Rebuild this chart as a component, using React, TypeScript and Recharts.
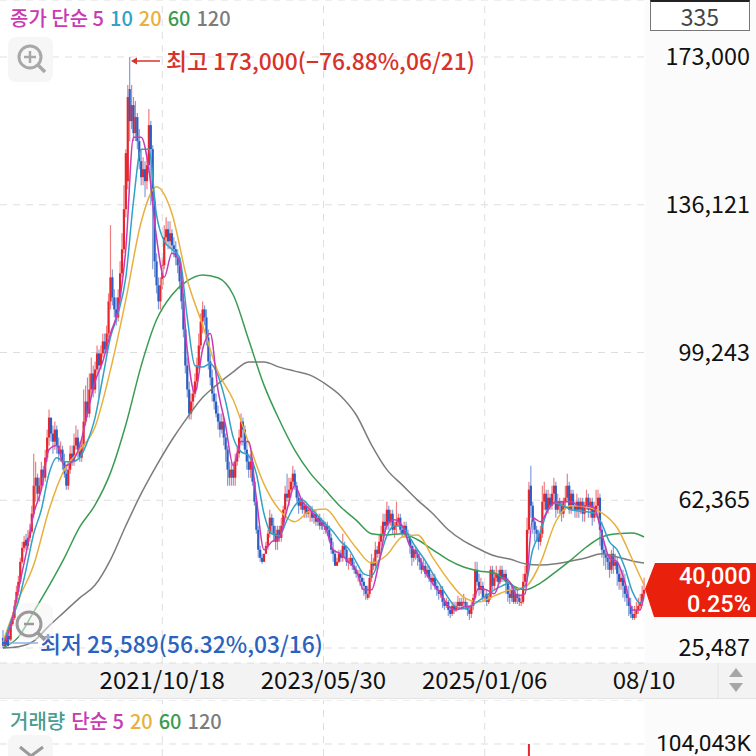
import React from "react";
import { Bar, CartesianGrid, ComposedChart, Line, ReferenceLine, XAxis, YAxis } from "recharts";

// prices in thousand won, one row = 10 candles
const opens = [
  28,26,27,28.5,27.6,31.5,33,36,39.5,42,
  47,50.5,52.5,51,53,54.5,59,66,68,64,
  66,70,68,73,78,83,79,77,80,76,
  74,75,72,69,66,70,74,72,76,78,
  75,73,76,82,87,84,90,94,90,95,
  99,96,99,102,100,104,112,118,113,110,
  108,113,119,125,135,142,165,157,161,154,
  158,152,147,143,145,142,146,156,150,137,
  122,116,112,116,121,128,130,127,129,126,
  125,123,121,117,112,105,96,90,84,87,
  89,92,96,101,107,110,108,103,97,93,
  89,87,84,82,80,82,78,75,70,68,
  70,68,72,74,78,82,80,75,72,70,
  72,67,62,55,50,48,47,49,51,54,
  58,56,54,52,55,53,56,60,64,63,
  65,67,69,66,63,61,62,60,61,59,
  60,60,58,59,57,58,56,57,55,56,
  55,53,50,49,46,47,49,48,51,50,
  47,47,48,46,45,44,44,43,42,41,
  38,39,43,47,46,50,49,52,54,57,
  56,60,57,59,55,56,57,58,55,54,
  56,54,53,51,48,50,49,48,47,45,
  46,44,45,43,42,43,41,40,39,40,
  37,36,37,35,34,36,35,36,37,36,
  37,37,36,35,34,36,38,45,42,40,
  41,38,39,37,38,45,41,43,44,42,
  45,43,44,42,39,38,40,37,39,38,
  37,37,42,44,55,66,61,57,55,54,
  52,54,62,64,60,63,61,64,66,60,
  62,61,59,62,63,66,60,64,61,60,
  62,60,62,59,61,63,60,62,58,60,
  61,63,55,50,49,48,47,45,49,46,
  47,44,42,43,41,39,38,36,34,33,34,35,36,37,39,
];
const closes = [
  26,27,28.5,27.6,31.5,33,36,39.5,42,47,
  50.5,52,51,53,54.5,59,66,68,64,66,
  70,68,73,78,83,79,77,80,76,74,
  75,72,69,66,70,74,72,76,78,75,
  73,76,82,87,84,90,94,90,95,99,
  96,99,102,100,104,112,118,113,110,108,
  113,119,125,135,149,163,157,161,154,158,
  152,147,143,145,142,146,156,150,137,122,
  116,112,116,121,128,130,127,129,126,125,
  123,121,117,112,105,96,90,84,87,89,
  92,96,101,107,110,108,103,97,93,89,
  87,84,82,80,82,78,75,70,68,70,
  68,72,74,78,82,80,75,72,70,72,
  67,62,55,50,48,47,49,51,54,58,
  56,54,52,55,53,56,60,64,63,65,
  67,69,66,63,61,62,60,61,59,60,
  60,58,59,57,58,56,57,55,56,55,
  53,50,49,46,47,49,48,51,50,47,
  47,48,46,45,44,44,43,42,41,39,
  39,43,47,46,50,49,52,54,57,56,
  60,57,59,55,56,57,58,55,54,56,
  54,53,51,48,50,49,48,47,45,46,
  44,45,43,42,43,41,40,39,40,37,
  36,37,35,34,36,35,36,37,36,37,
  37,36,35,34,36,38,45,42,40,41,
  38,39,37,38,45,41,43,44,42,45,
  43,44,42,39,38,40,37,39,38,37,
  37,42,44,55,65,61,57,55,54,52,
  54,62,64,60,63,61,64,66,60,62,
  61,59,62,63,66,60,64,61,60,62,
  60,62,59,61,63,60,62,58,60,61,
  63,55,50,49,48,47,45,49,46,47,
  44,42,43,41,39,38,36,34,33,34,35,36,37,39,40,
];
const highs = [
  30,28.5,29.5,30,32.5,34.5,37.5,41,43.5,48,
  52,53.5,54,55,56.5,61,74,72,69,68,
  72,71,75,80,85,82,81,82,81,78,
  77,76,74,71,72,76,76,79,81,80,
  77,78,90,91,93,94,98,96,97,101,
  100,101,104,104,106,114,131,120,115,113,
  115,122,129,141,150,166,173,166,163,162,
  159,155,150,148,147,149,160,157,151,138,
  124,118,118,123,131,133,132,132,130,128,
  127,125,123,119,114,106,98,92,89,91,
  94,98,104,109,112,111,110,105,99,95,
  91,89,86,84,84,83,79,76,72,72,
  72,74,76,80,84,83,81,77,74,74,
  73,68,63,56,51,49,49,52,55,60,
  59,58,56,56,56,58,61,66,69,68,
  68,71,70,67,64,63,63,62,62,61,
  61,61,60,60,59,59,58,58,57,57,
  56,54,52,50,48,50,50,54,52,51,
  48,49,48,47,46,45,45,44,43,41,
  41,45,49,48,52,51,54,56,59,59,
  62,61,60,60,57,62,59,59,56,57,
  57,55,54,52,51,51,50,49,48,48,
  47,46,46,44,44,44,42,41,41,41,
  38,38,37.5,36,37,37,37,38.5,38,38,
  39,38,37,36,37,39,47,47,44,43,
  42,40,40,39,46,46,45,46,45,46,
  46,45,45,43,41,41,41,40,40,39,
  39,44,46,58,67,71,62,58,56,55,
  56,66,67,65,65,64,66,68,67,64,
  63,62,63,66,69,67,65,65,62,64,
  63,63,63,62,65,64,63,63,62,65,
  65,64,57,52,51,49,49,50,51,49,
  48,46,45,45,44,41,41,38,36,36,37,38,39,41,43,
];
const lows = [
  25.6,25.8,26.5,27,27.2,31,32.5,35.5,38.5,41.5,
  46.5,49.5,50,50,52,54,58,62,62,62,
  65,66,67,72,76,77,74,75,74,72,
  72,70,68,65,65,69,71,71,75,73,
  72,72,75,81,83,83,89,88,89,94,
  88,95,98,99,99,103,110,111,108,106,
  107,112,118,124,133,140,152,155,152,152,
  150,145,141,141,138,140,144,136,120,118,
  114,110,110,115,120,126,125,125,124,123,
  121,119,115,110,103,94,88,82.5,82.5,85,
  88,90,95,100,104,106,101,95,91,87,
  85,83,80,78,79,76,72,66,66,66,
  66,66,71,73,76,76,74,70,68,68,
  66,61,54,48,47,46.5,47,49,50,53,
  54,52,50,50,52,52,55,59,62,61,
  63,65,65,62,59,60,59,58,58,58,
  57,57,56.5,56,56,55,55,54,54,53.5,
  52,49,47,46.7,46.7,46.7,47,47,48,46,
  45,46,45,44,43,42,41,40,38.5,37.5,
  37.5,38,42,45,45,48,48,51,53,54,
  55,55,56,54,53,54,56,54,53,53,
  53,52,49,46,47,47.5,46,45,44,44.5,
  43,43,42,40,41,40,38.5,37.5,38,35.5,
  35,35.5,33.5,33,33.5,34,34.5,35,35,35,
  35.5,35,33.5,32.5,33,35,37.5,41,38.5,39,
  37,37,36,36.5,37.5,40,40,42,41,41.5,
  42,42,39,37,36.5,37,36.5,36.5,36.5,36,
  36,36.5,41,43,54,58,54,52,52,50,
  51,53,60,59,59,60,60,62,58,59,
  59,57,58,60,62,59,59,60,58,58,
  58,59,57,57,60,58,58,56,57,58,
  58,51,48,46,45,45,43,44,44,45,
  41,40,40,38,37,36,33.5,33,32.5,32.5,33,34,35,36,38,
];

// moving averages, one value every 4 candles (5, 10) or every 8 candles (20, 60, 120)
const ma5 = [
  26,31,40,49,59,65,75,76,71,72,76,84,92,97,104,110,125,153,153,145,128,
  118,124,122,100,89,100,104,90,81,71,77,77,63,50,52,53,60,66,62,60,57.5,
  55.5,50,49,47,45,40,40,47,56,57.5,56,51,49,44.5,41.5,39,36,35,35.7,36,
  40.5,40,39,43,42,38.5,39,58,57,60,62,62,62,61,61,60.5,54,48,47,42,35,35,39,
];
const ma10 = [
  26,32,37,45,54,60,69,73,72,72,73,77,83,93,103,109,118,137,150,150,133.6,
  127,125,123,108,96,95.6,96.5,93.5,87,78,74.5,73.5,69,59,54,53.5,57.5,61,62.4,60.7,58.5,
  56.5,54.5,52,50.3,47,44,43.5,47.5,53.5,56,55.7,53,50,47.3,44,41,38,35.7,35.3,36,
  37.3,38.6,40,41,41.7,40,41,50,54.5,60,61.7,61,60,59.7,59.5,59.2,56.5,52,50,45.5,39.5,36.7,38,
];
const ma20 = [
  27,37.5,46.2,60,70,74.9,80.7,94.9,112.4,131.8,140.6,134,117.4,106.1,94.4,87.4,76.7,66.4,60,57,59.7,60.2,
  55.7,50.5,46.7,48.7,53.2,53.7,48,42.5,38.2,37,38.5,40,40.7,46.7,57,61,60.7,59.2,55.5,47.5,41.2,
];
const ma60 = [
  25.5,28.2,34.5,41,48,55.7,61.2,69.2,81.2,95.9,107.4,113.6,117.1,118.6,117.9,113.6,102.4,91.1,82.4,74.9,69.2,64.9,
  60.7,57.4,54,53.7,54,52.5,50,47.5,45.7,44.7,44.2,41.5,40,41.7,44.5,47.5,50.7,53.2,54,54.2,53.2,
];
const ma120 = [
  25.5,25.8,27.2,31,34.5,38,41.2,47.5,56,64,71,77.4,83,88,91.4,94.4,96.9,96.9,95.6,94.6,93.6,91.4,
  88.4,83.7,76.2,70,66.2,62.4,59,55,52.2,50.2,48.5,47.7,46.5,46.2,46.5,47.2,48,49,48.2,47.2,46.7,
];

const priceTicks = [173000, 136121, 99243, 62365, 25487];
const dateTickIndex = [83, 167, 251, 334];
const dateTickLabels = ["2021/10/18", "2023/05/30", "2025/01/06", "08/10"];
const gridIndex = [83, 167, 251];
const volumeIndex = [274];
const volumeValues = [104043];
const volumeTicks = [104043];

const RED = "#e6262b";
const BLUE = "#2b5dc2";
const GRID = "#dedede";
const FONT = "'Noto Sans CJK KR', 'Noto Sans', sans-serif";

const LAST = closes.length - 1;
const table = closes.map((close, i) => ({
  idx: i,
  open: opens[i] * 1000,
  close: close * 1000,
  high: highs[i] * 1000,
  low: lows[i] * 1000,
  range: [lows[i] * 1000, highs[i] * 1000],
})) as any[];

function attach(key: string, values: number[], step: number) {
  values.forEach((v, k) => {
    table[Math.min(k * step, LAST)][key] = v * 1000;
  });
}
attach("ma5", ma5, 4);
attach("ma10", ma10, 4);
attach("ma20", ma20, 8);
attach("ma60", ma60, 8);
attach("ma120", ma120, 8);

const volumeTable = closes.map((_, i) => {
  const at = volumeIndex.indexOf(i);
  return { idx: i, volume: at >= 0 ? volumeValues[at] : 0 };
});

function Candle(props: any) {
  const { x, y, width, height, payload } = props;
  const up = payload.close >= payload.open;
  const color = up ? RED : BLUE;
  const perWon = height / (payload.high - payload.low);
  const top = y + (payload.high - Math.max(payload.open, payload.close)) * perWon;
  const bodyH = Math.max(1, Math.abs(payload.close - payload.open) * perWon);
  const cx = x + width / 2;
  return (
    <g>
      <line x1={cx} x2={cx} y1={y} y2={y + height} stroke={color} strokeWidth={1.2} strokeOpacity={0.6} />
      <rect x={cx - 1.1} y={top} width={2.2} height={bodyH} fill={color} />
    </g>
  );
}

function PriceTick(props: any) {
  return (
    <text x={750} y={props.y + 8} textAnchor="end" fontSize={23.4} fontFamily={FONT} fill="#111">
      {props.payload.value.toLocaleString("en-US")}
    </text>
  );
}

function VolumeTick(props: any) {
  return (
    <text x={751} y={props.y + 7} textAnchor="end" fontSize={22.6} fontFamily="Roboto, sans-serif" fill="#111">
      {props.payload.value.toLocaleString("en-US")}K
    </text>
  );
}

function DateTick(props: any) {
  const label = dateTickLabels[dateTickIndex.indexOf(props.payload.value)];
  return (
    <text x={props.x} y={689} textAnchor="middle" fontSize={24} fontFamily={FONT} fill="#111">
      {label}
    </text>
  );
}

function Label({ left, top, size, color, children }: any) {
  return (
    <div
      style={{
        position: "absolute",
        left,
        top,
        fontSize: size,
        lineHeight: 1,
        color,
        fontFamily: FONT,
        fontWeight: 500,
        whiteSpace: "pre",
      }}
    >
      {children}
    </div>
  );
}

export default function App() {
  return (
    <div style={{ position: "absolute", left: 0, top: 0, width: 756, height: 756, overflow: "hidden", background: "#fff" }}>
      <div style={{ position: "absolute", left: 645, top: 0, width: 111, height: 756, background: "#fbfbfb" }} />
      <div style={{ position: "absolute", left: 0, top: 663, width: 756, height: 35, background: "#f3f3f3", borderBottom: "1px solid #e4e4e4" }} />

      <div style={{ position: "absolute", left: 0, top: 0 }}>
        <ComposedChart width={756} height={756} data={table} margin={{ top: 0, right: 0, bottom: 0, left: 0 }} barCategoryGap={0}>
          <CartesianGrid stroke={GRID} strokeDasharray="7 6" vertical={false} />
          {gridIndex.map((i) => (
            <ReferenceLine key={i} x={i} stroke={GRID} strokeDasharray="7 6" />
          ))}
          <XAxis
            dataKey="idx"
            ticks={dateTickIndex}
            interval={0}
            height={93}
            padding={{ left: 2, right: 0 }}
            axisLine={false}
            tickLine={false}
            tick={<DateTick />}
          />
          <YAxis
            orientation="right"
            width={111}
            domain={[21743, 187227]}
            ticks={priceTicks}
            interval={0}
            axisLine={false}
            tickLine={false}
            tick={<PriceTick />}
          />
          <Bar dataKey="range" shape={<Candle />} isAnimationActive={false} />
          <Line dataKey="ma120" stroke="#7c7c7c" strokeWidth={1.5} dot={false} connectNulls type="monotone" isAnimationActive={false} />
          <Line dataKey="ma60" stroke="#3a9c52" strokeWidth={1.5} dot={false} connectNulls type="monotone" isAnimationActive={false} />
          <Line dataKey="ma20" stroke="#e8b03e" strokeWidth={1.5} dot={false} connectNulls type="monotone" isAnimationActive={false} />
          <Line dataKey="ma10" stroke="#2fa2c6" strokeWidth={1.5} dot={false} connectNulls type="monotone" isAnimationActive={false} />
          <Line dataKey="ma5" stroke="#c93ab4" strokeWidth={1.5} dot={false} connectNulls type="monotone" isAnimationActive={false} />
        </ComposedChart>
      </div>

      <div style={{ position: "absolute", left: 0, top: 700 }}>
        <ComposedChart width={756} height={160} data={volumeTable} margin={{ top: 0, right: 0, bottom: 0, left: 0 }} barCategoryGap={0}>
          <CartesianGrid stroke={GRID} strokeDasharray="7 6" vertical={false} />
          {gridIndex.map((i) => (
            <ReferenceLine key={i} x={i} stroke={GRID} strokeDasharray="7 6" />
          ))}
          <XAxis dataKey="idx" ticks={dateTickIndex} interval={0} height={0} padding={{ left: 2, right: 0 }} tick={false} axisLine={false} tickLine={false} />
          <YAxis
            orientation="right"
            width={111}
            domain={[0, 143500]}
            ticks={volumeTicks}
            interval={0}
            axisLine={false}
            tickLine={false}
            tick={<VolumeTick />}
          />
          <Bar dataKey="volume" fill={RED} isAnimationActive={false} />
        </ComposedChart>
      </div>

      {/* legends */}
      <div style={{ position: "absolute", left: 10, top: 7, display: "flex", gap: 6, fontFamily: FONT, fontSize: 20, lineHeight: "22px", fontWeight: 500 }}>
        <span style={{ color: "#c93ab4" }}>종가 단순 5</span>
        <span style={{ color: "#2fa2c6" }}>10</span>
        <span style={{ color: "#e8b03e" }}>20</span>
        <span style={{ color: "#3a9c52" }}>60</span>
        <span style={{ color: "#7c7c7c" }}>120</span>
      </div>
      <div style={{ position: "absolute", left: 10, top: 710, display: "flex", gap: 6, fontFamily: FONT, fontSize: 20, lineHeight: "22px", fontWeight: 500 }}>
        <span style={{ color: "#4a9c90" }}>거래량</span>
        <span style={{ color: "#c93ab4" }}>단순 5</span>
        <span style={{ color: "#e8b03e" }}>20</span>
        <span style={{ color: "#3a9c52" }}>60</span>
        <span style={{ color: "#7c7c7c" }}>120</span>
      </div>

      {/* high / low notes */}
      <Label left={166} top={50} size={22.8} color="#d8322a">최고 173,000(−76.88%,06/21)</Label>
      <Label left={40} top={633} size={22.8} color="#2a62c0">최저 25,589(56.32%,03/16)</Label>

      {/* count box */}
      <div
        style={{
          position: "absolute",
          left: 650,
          top: 0,
          width: 98,
          height: 28,
          background: "#fff",
          border: "1px solid #777",
          borderTop: "2px solid #222",
          textAlign: "center",
          fontFamily: FONT,
          fontSize: 23,
          lineHeight: "28px",
          color: "#444",
        }}
      >
        335
      </div>

      {/* last price flag */}
      <svg width={756} height={756} style={{ position: "absolute", left: 0, top: 0 }}>
        <polygon points="645,589 655,563 756,563 756,617 654,617" fill="#e8200c" />
        <line x1={160} x2={134} y1={61} y2={61} stroke="#d8322a" strokeWidth={1.5} />
        <polygon points="131,61 137,57.5 137,64.5" fill="#d8322a" />
        <line x1={38} x2={6} y1={643} y2={643} stroke="#8fb2e6" strokeWidth={1.5} />
        <polygon points="3,643 9,639.5 9,646.5" fill="#2a62c0" />

        <rect x={8} y={37} width={45} height={45} rx={8} fill="#f6f6f6" />
        <circle cx={30} cy={57} r={11} fill="none" stroke="#a8a8a8" strokeWidth={3} />
        <line x1={24} x2={36} y1={57} y2={57} stroke="#a8a8a8" strokeWidth={2.5} />
        <line x1={30} x2={30} y1={51} y2={63} stroke="#a8a8a8" strokeWidth={2.5} />
        <line x1={38} x2={45} y1={65} y2={72} stroke="#a8a8a8" strokeWidth={3.5} />

        <rect x={17} y={603} width={36} height={37} rx={8} fill="#f4f4f4" fillOpacity={0.5} />
        <circle cx={29} cy={624} r={12} fill="none" stroke="#9a9a9a" strokeWidth={3} />
        <line x1={24} x2={34} y1={624} y2={624} stroke="#9a9a9a" strokeWidth={2.5} />
        <line x1={38} x2={45} y1={633} y2={640} stroke="#9a9a9a" strokeWidth={3.5} />

        <rect x={8} y={735} width={45} height={30} rx={8} fill="#f6f6f6" />
        <polyline points="20,747 31,756 43,747" fill="none" stroke="#9a9a9a" strokeWidth={3} />

        <line x1={718} x2={718} y1={663} y2={698} stroke="#e2e2e2" strokeWidth={1} />
        <polygon points="736,668 743,677 729,677" fill="#a6a6a6" />
        <polygon points="736,692 743,683 729,683" fill="#a6a6a6" />
      </svg>
      <div style={{ position: "absolute", right: 5, top: 563, height: 27, color: "#fff", fontFamily: "Roboto, sans-serif", fontSize: 23.5, lineHeight: "27px", fontWeight: 500 }}>40,000</div>
      <div style={{ position: "absolute", right: 5, top: 591, height: 27, color: "#fff", fontFamily: "Roboto, sans-serif", fontSize: 23.5, lineHeight: "27px", fontWeight: 500 }}>0.25%</div>
    </div>
  );
}
